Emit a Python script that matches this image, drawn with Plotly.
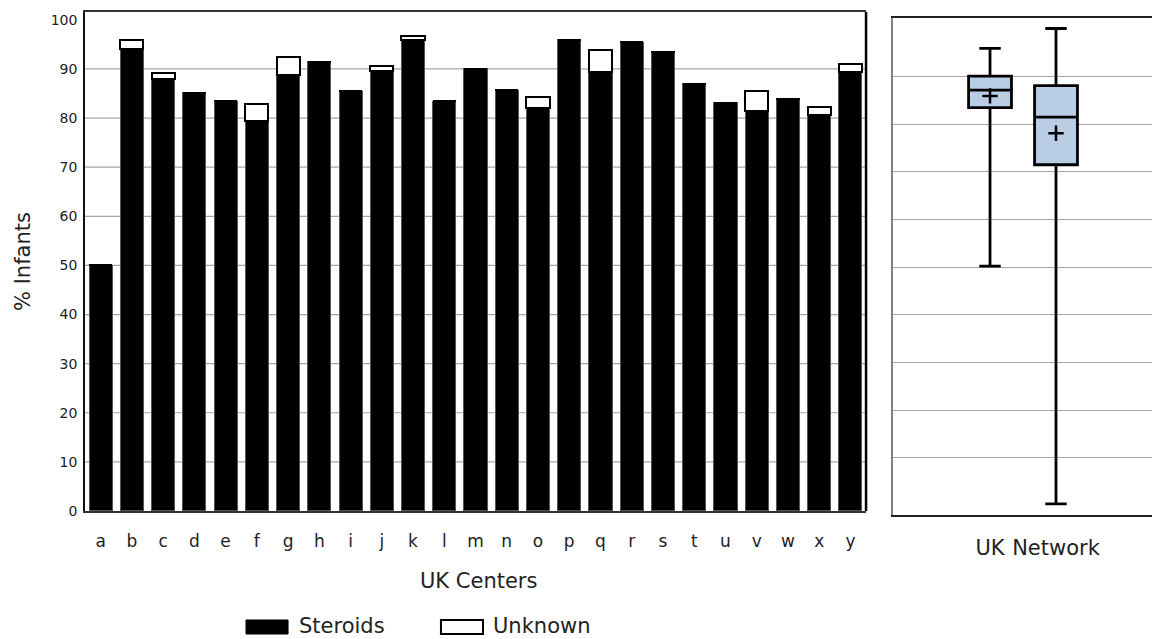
import plotly.graph_objects as go

# ---- data ----
centers = list("abcdefghijklmnopqrstuvwxy")
steroids = [50.0, 94.0, 87.9, 85.2, 83.4, 79.4, 88.8, 91.5, 85.5, 89.6, 95.8, 83.4, 90.0,
            85.7, 82.0, 96.0, 89.3, 95.4, 93.4, 87.0, 83.1, 81.5, 83.9, 80.7, 89.3]
unknown = [0.0, 1.9, 1.2, 0.0, 0.0, 3.4, 3.7, 0.0, 0.0, 1.0, 0.9, 0.0, 0.0,
           0.0, 2.3, 0.0, 4.5, 0.0, 0.0, 0.0, 0.0, 4.0, 0.0, 1.5, 1.7]
y_ticks = [0, 10, 20, 30, 40, 50, 60, 70, 80, 90, 100]
grid_vals = [10, 20, 30, 40, 50, 60, 70, 80, 90]

box_names = ["UK", "Network"]
box_min = [50.2, 0.3]
box_q1 = [83.5, 71.5]
box_median = [87.15, 81.5]
box_q3 = [90.1, 88.1]
box_max = [95.95, 100.1]
box_mean = [85.95, 78.1]

FONT = "DejaVu Sans"
TXT = "#222222"

fig = go.Figure()

fig.add_trace(go.Bar(
    x=centers, y=steroids, name="Steroids",
    marker=dict(color="black", line=dict(color="#555555", width=1)),
    xaxis="x", yaxis="y", showlegend=False,
))
fig.add_trace(go.Bar(
    x=centers, y=unknown, name="Unknown",
    marker=dict(color="white", line=dict(color="black", width=2)),
    xaxis="x", yaxis="y", showlegend=False,
))

for i, nm in enumerate(box_names):
    fig.add_trace(go.Box(
        x=[i], q1=[box_q1[i]], median=[box_median[i]], q3=[box_q3[i]],
        lowerfence=[box_min[i]], upperfence=[box_max[i]],
        name=nm, width=0.65, whiskerwidth=0.5,
        fillcolor="#b9cde5", line=dict(color="black", width=2.8),
        xaxis="x2", yaxis="y2", showlegend=False, hoverinfo="skip",
    ))

fig.add_trace(go.Scatter(
    x=[0, 1], y=box_mean, mode="markers", name="Mean",
    marker=dict(symbol="cross-thin", size=11, color="black",
                line=dict(color="black", width=2.5)),
    xaxis="x2", yaxis="y2", showlegend=False,
))

shapes = []
# gridlines for left panel
for g in grid_vals:
    shapes.append(dict(type="line", xref="x domain", yref="y", x0=0, x1=1, y0=g, y1=g,
                       line=dict(color="#a6a6a6", width=1.2), layer="below"))
# right border of left panel (thicker)
shapes.append(dict(type="line", xref="x domain", yref="y domain", x0=1, x1=1, y0=0, y1=1,
                   line=dict(color="black", width=2.5)))

# legend swatches
shapes.append(dict(type="rect", xref="paper", yref="paper",
                   x0=0.1509, x1=0.1903, y0=-0.2366, y1=-0.2087,
                   fillcolor="black", line=dict(color="black", width=1)))
shapes.append(dict(type="rect", xref="paper", yref="paper",
                   x0=0.3336, x1=0.3730, y0=-0.2366, y1=-0.2087,
                   fillcolor="white", line=dict(color="black", width=2)))

annotations = [
    dict(text="Steroids", xref="paper", yref="paper", x=0.1987, y=-0.2200,
         xanchor="left", yanchor="middle", showarrow=False,
         font=dict(family=FONT, size=21, color=TXT)),
    dict(text="Unknown", xref="paper", yref="paper", x=0.3805, y=-0.2200,
         xanchor="left", yanchor="middle", showarrow=False,
         font=dict(family=FONT, size=21, color=TXT)),
    dict(text="UK Centers", xref="paper", yref="paper", x=(478 - 85) / 1067, y=(515 - 581) / 503,
         xanchor="center", yanchor="middle", showarrow=False,
         font=dict(family=FONT, size=21, color=TXT)),
    dict(text="% Infants", xref="paper", yref="paper", x=(23 - 85) / 1067, y=(515 - 262) / 503,
         xanchor="center", yanchor="middle", textangle=-90, showarrow=False,
         font=dict(family=FONT, size=21, color=TXT)),
]

fig.update_layout(
    width=1152, height=639,
    margin=dict(l=85, r=0, t=12, b=124),
    paper_bgcolor="white", plot_bgcolor="white",
    barmode="stack", bargap=0.26,
    font=dict(family=FONT, color=TXT),
    shapes=shapes, annotations=annotations,
    xaxis=dict(domain=[0, 0.7320], range=[-0.5, 24.5], type="category",
               showgrid=False, showline=True, mirror=True, linecolor="#333333", linewidth=1.5,
               ticks="outside", ticklen=14, tickcolor="rgba(0,0,0,0)",
               tickfont=dict(family=FONT, size=17, color=TXT), anchor="y"),
    yaxis=dict(domain=[0.008, 1.0], range=[0, 101.6], tickvals=y_ticks,
               showgrid=False, zeroline=False, showline=True, linecolor="#111111", linewidth=1.5,
               ticks="outside", ticklen=3, tickcolor="rgba(0,0,0,0)",
               tickfont=dict(family=FONT, size=14, color=TXT), anchor="x"),
    xaxis2=dict(domain=[0.7573, 1.0], range=[-1.47, 2.455], tickvals=[0, 1], ticktext=box_names,
                showgrid=False, zeroline=False, showline=True, mirror=True,
                linecolor="#222222", linewidth=1.5,
                ticks="outside", ticklen=13, tickcolor="rgba(0,0,0,0)",
                tickfont=dict(family=FONT, size=21, color=TXT), anchor="y2"),
    yaxis2=dict(domain=[0, 0.988], range=[-2.03, 102.3], tickvals=grid_vals,
                showticklabels=False, showgrid=True, gridcolor="#a6a6a6", gridwidth=1.2,
                zeroline=False, showline=True, linecolor="#808080", linewidth=2, anchor="x2"),
)

fig.write_html("out.html", config={"displayModeBar": False},
               post_script="document.body.style.margin='0px';document.body.style.overflow='hidden';")
